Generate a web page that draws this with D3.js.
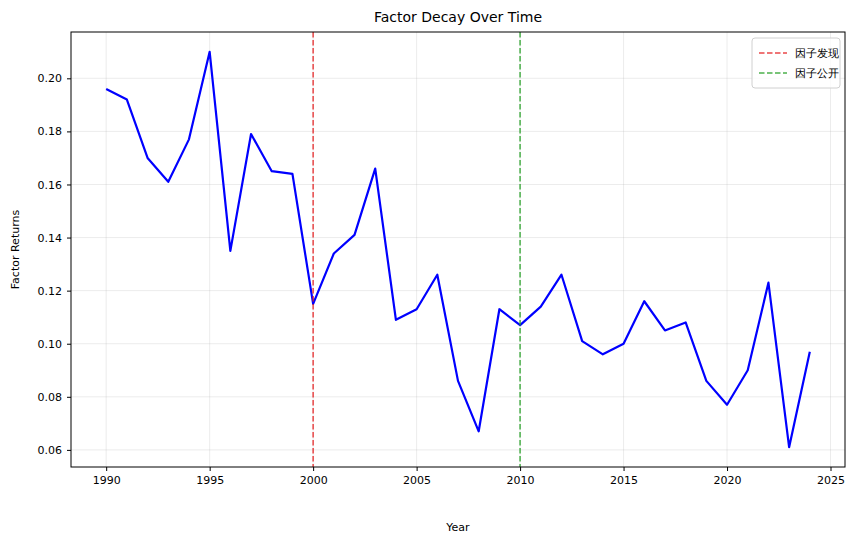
<!DOCTYPE html>
<html>
<head>
<meta charset="utf-8">
<script src="https://cdn.jsdelivr.net/npm/d3@7"></script>
<style>
  body { margin: 0; background: #fff; }
  text { font-family: "DejaVu Sans", sans-serif; }
</style>
</head>
<body>
<div id="chart"></div>
<script>
// Data
const years = d3.range(1990, 2025);
const factorReturns = [0.196, 0.192, 0.170, 0.161, 0.177, 0.210, 0.135, 0.179, 0.165, 0.164,
  0.115, 0.134, 0.141, 0.166, 0.109, 0.113, 0.126, 0.086, 0.067, 0.113,
  0.107, 0.114, 0.126, 0.101, 0.096, 0.100, 0.116, 0.105, 0.108, 0.086,
  0.077, 0.090, 0.123, 0.061, 0.097];
const markerYears = [2000, 2010];
const markerLabels = ["因子发现", "因子公开"];
const markerColors = ["#e31a1c", "#1f9e1f"];
const xTicks = [1990, 1995, 2000, 2005, 2010, 2015, 2020, 2025];
const yTicks = [0.06, 0.08, 0.10, 0.12, 0.14, 0.16, 0.18, 0.20];

const W = 858, H = 547;
const margin = { top: 32, right: 13, bottom: 80, left: 71 };
const width = W - margin.left - margin.right;
const height = H - margin.top - margin.bottom;

const svg = d3.select("#chart").append("svg")
    .attr("width", W).attr("height", H);
const g = svg.append("g")
    .attr("transform", `translate(${margin.left},${margin.top})`);

// matplotlib style 5% margins
const xMin = d3.min(years), xMax = d3.max(years);
const xPad = (xMax - xMin) * 0.05;
const yMin = d3.min(factorReturns), yMax = d3.max(factorReturns);
const yPad = (yMax - yMin) * 0.05;

const x = d3.scaleLinear().domain([xMin - xPad, xMax + xPad]).range([0, width]);
const y = d3.scaleLinear().domain([yMin - yPad, yMax + yPad]).range([height, 0]);

// Grid
g.append("g").selectAll("line").data(xTicks).join("line")
    .attr("x1", d => x(d)).attr("x2", d => x(d))
    .attr("y1", 0).attr("y2", height)
    .attr("stroke", "#b0b0b0").attr("stroke-opacity", 0.3).attr("stroke-width", 0.8);
g.append("g").selectAll("line").data(yTicks).join("line")
    .attr("y1", d => y(d)).attr("y2", d => y(d))
    .attr("x1", 0).attr("x2", width)
    .attr("stroke", "#b0b0b0").attr("stroke-opacity", 0.3).attr("stroke-width", 0.8);

// Line
const line = d3.line()
    .x((d, i) => x(years[i]))
    .y(d => y(d));
g.append("path")
    .datum(factorReturns)
    .attr("fill", "none")
    .attr("stroke", "#0000ff")
    .attr("stroke-width", 2.2)
    .attr("stroke-linejoin", "round")
    .attr("d", line);

// Vertical markers
g.append("g").selectAll("line").data(markerYears).join("line")
    .attr("x1", d => x(d)).attr("x2", d => x(d))
    .attr("y1", 0).attr("y2", height)
    .attr("stroke", (d, i) => markerColors[i])
    .attr("stroke-opacity", 0.8)
    .attr("stroke-width", 1.5)
    .attr("stroke-dasharray", "5.5,2.5");

// Axes
const xAxis = g.append("g")
    .attr("transform", `translate(0,${height})`)
    .call(d3.axisBottom(x).tickValues(xTicks).tickFormat(d3.format("d")).tickSize(4).tickPadding(5));
const yAxis = g.append("g")
    .call(d3.axisLeft(y).tickValues(yTicks).tickFormat(d3.format(".2f")).tickSize(4).tickPadding(5));
[xAxis, yAxis].forEach(a => {
    a.select(".domain").remove();
    a.selectAll("text").attr("font-size", 11).attr("fill", "#000").attr("font-family", "DejaVu Sans");
    a.selectAll("line").attr("stroke", "#000");
});

// Frame
g.append("rect")
    .attr("width", width).attr("height", height)
    .attr("fill", "none").attr("stroke", "#000").attr("stroke-width", 1);

// Title and labels
svg.append("text")
    .attr("x", margin.left + width / 2).attr("y", 22)
    .attr("text-anchor", "middle").attr("font-size", 14)
    .text("Factor Decay Over Time");
svg.append("text")
    .attr("x", margin.left + width / 2).attr("y", H - 16)
    .attr("text-anchor", "middle").attr("font-size", 11)
    .text("Year");
svg.append("text")
    .attr("transform", `translate(19,${margin.top + height / 2}) rotate(-90)`)
    .attr("text-anchor", "middle").attr("font-size", 11)
    .text("Factor Returns");

// Legend
const legend = g.append("g").attr("transform", `translate(${width - 93},6)`);
legend.append("rect")
    .attr("width", 88).attr("height", 50).attr("rx", 3)
    .attr("fill", "#fff").attr("fill-opacity", 0.8)
    .attr("stroke", "#d0d0d0");
markerLabels.forEach((lab, i) => {
    const row = legend.append("g").attr("transform", `translate(7,${15 + i * 20})`);
    row.append("line")
        .attr("x1", 0).attr("x2", 28)
        .attr("stroke", markerColors[i]).attr("stroke-opacity", 0.8)
        .attr("stroke-width", 1.5).attr("stroke-dasharray", "5.5,2.5");
    row.append("text")
        .attr("x", 36).attr("y", 4).attr("font-size", 11)
        .text(lab);
});
</script>
</body>
</html>
